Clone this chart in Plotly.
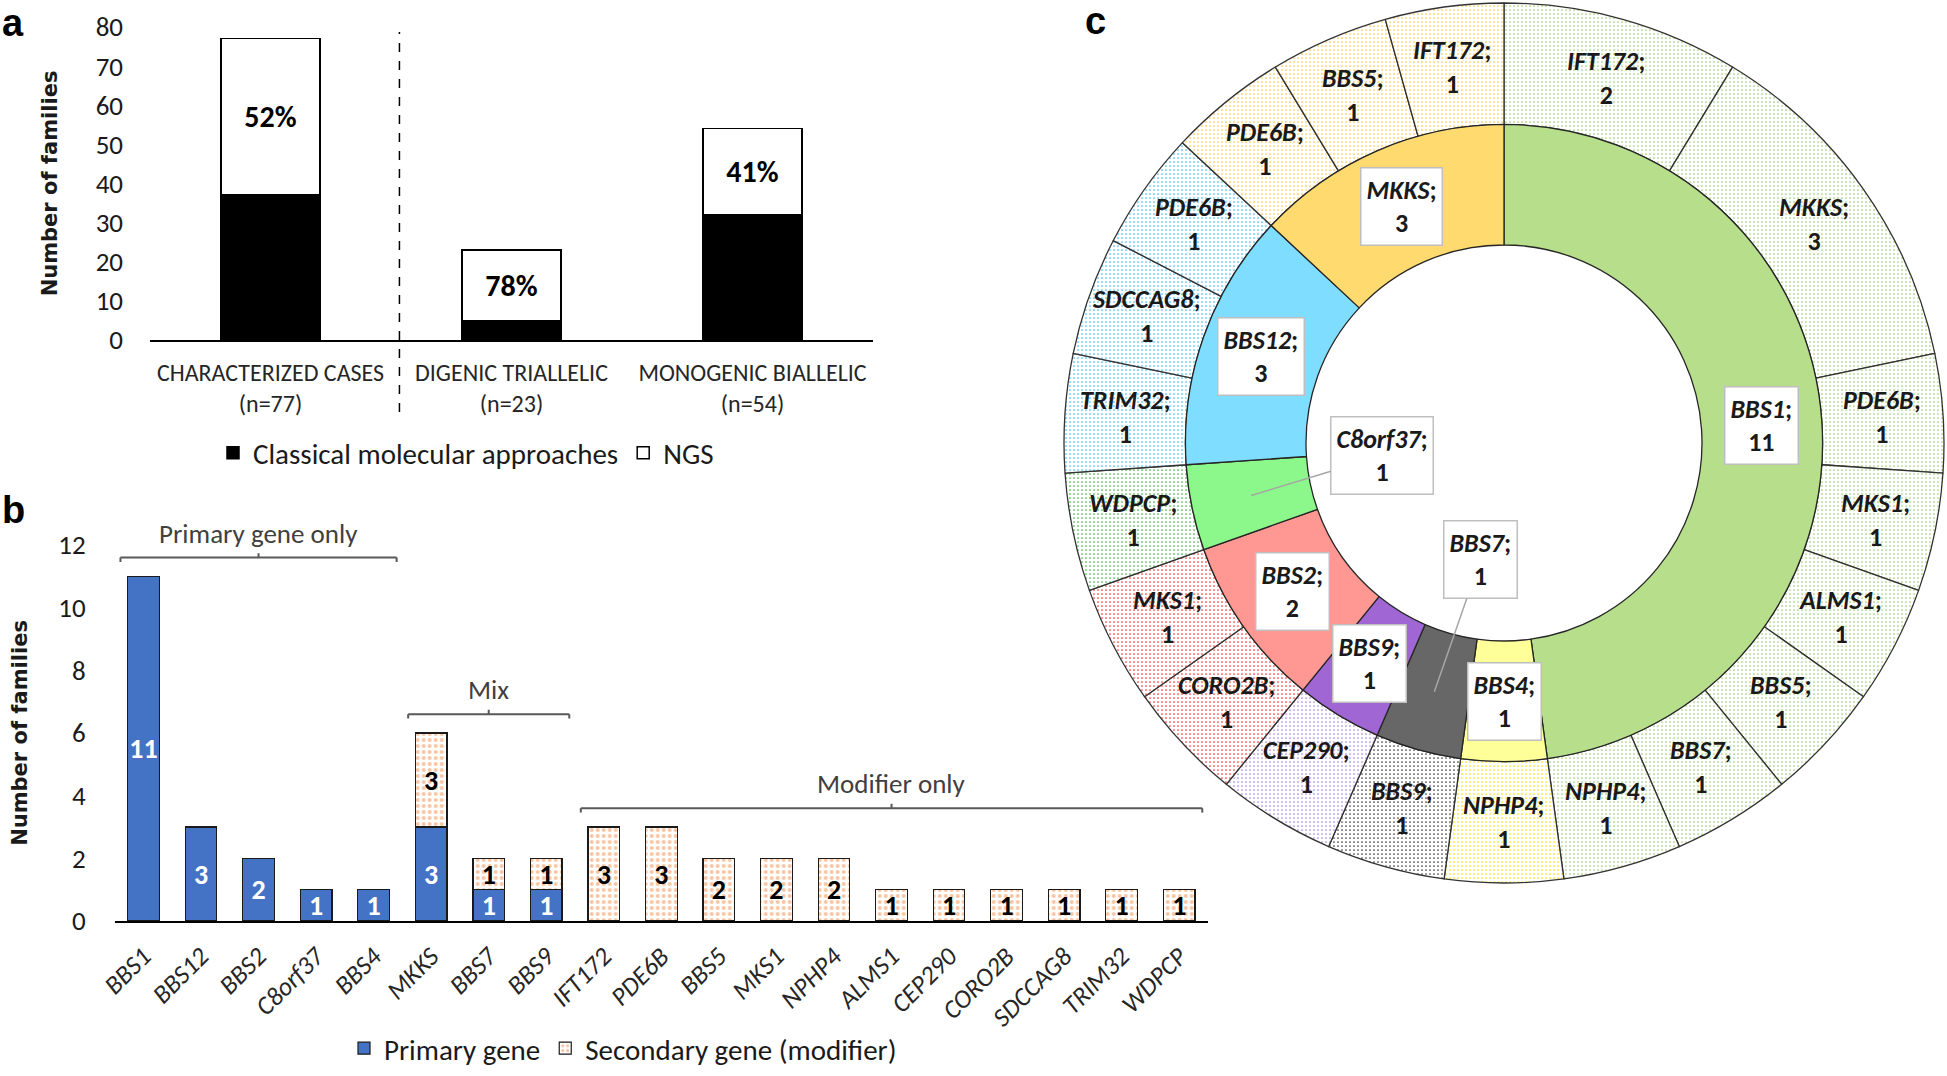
import math
import plotly.graph_objects as go

W, H = 1947, 1076

# ---------------- data ----------------
# panel a
a_categories = ["CHARACTERIZED CASES<br>(n=77)", "DIGENIC TRIALLELIC<br>(n=23)", "MONOGENIC BIALLELIC<br>(n=54)"]
a_classical = [37, 5, 32]
a_ngs = [40, 18, 22]
a_series_names = ["Classical molecular approaches", "NGS"]

# panel b
b_genes = ["BBS1", "BBS12", "BBS2", "C8orf37", "BBS4", "MKKS", "BBS7", "BBS9", "IFT172", "PDE6B",
           "BBS5", "MKS1", "NPHP4", "ALMS1", "CEP290", "CORO2B", "SDCCAG8", "TRIM32", "WDPCP"]
b_primary = [11, 3, 2, 1, 1, 3, 1, 1, 0, 0, 0, 0, 0, 0, 0, 0, 0, 0, 0]
b_secondary = [0, 0, 0, 0, 0, 3, 1, 1, 3, 3, 2, 2, 2, 1, 1, 1, 1, 1, 1]
b_series_names = ["Primary gene", "Secondary gene (modifier)"]
b_groups = ["Primary gene only", "Mix", "Modifier only"]
b_group_sizes = [5, 3, 11]

# panel c (inner ring = primary gene, outer ring = secondary gene)
c_primary = ["BBS1", "BBS4", "BBS7", "BBS9", "BBS2", "C8orf37", "BBS12", "MKKS"]
c_primary_counts = [11, 1, 1, 1, 2, 1, 3, 3]
c_secondary_parent = ["BBS1", "BBS1", "BBS1", "BBS1", "BBS1", "BBS1", "BBS1", "BBS1",
                      "BBS4", "BBS7", "BBS9", "BBS2", "BBS2", "C8orf37",
                      "BBS12", "BBS12", "BBS12", "MKKS", "MKKS", "MKKS"]
c_secondary_gene = ["IFT172", "MKKS", "PDE6B", "MKS1", "ALMS1", "BBS5", "BBS7", "NPHP4",
                    "NPHP4", "BBS9", "CEP290", "CORO2B", "MKS1", "WDPCP",
                    "TRIM32", "SDCCAG8", "PDE6B", "PDE6B", "BBS5", "IFT172"]
c_secondary_counts = [2, 3, 1, 1, 1, 1, 1, 1, 1, 1, 1, 1, 1, 1, 1, 1, 1, 1, 1, 1]

# ---------------- styles ----------------
FONT = "Carlito, Lato, 'Open Sans', sans-serif"
TITLE_FONT = "'DejaVu Sans', Verdana, sans-serif"
TXT = "#1a1a1a"
inner_colors = {"BBS1": "#B6DE8B", "BBS4": "#FFFF99", "BBS7": "#676767", "BBS9": "#A066D3",
                "BBS2": "#FF9792", "C8orf37": "#8CF78A", "BBS12": "#7FDDFF", "MKKS": "#FFDA6F"}
outer_dots = {"BBS1": "#9BCF6E", "BBS4": "#F2E600", "BBS7": "#3C3C3C", "BBS9": "#A883D8",
              "BBS2": "#FF3030", "C8orf37": "#3DB33D", "BBS12": "#3FBCEC", "MKKS": "#F7C640"}
inner_label_offsets = {"C8orf37": (131, -40), "BBS7": (46, -132)}

fig = go.Figure()

# ---------------- panel a ----------------
pct = [f"{round(100 * n / (c + n))}%" for c, n in zip(a_classical, a_ngs)]
fig.add_trace(go.Bar(x=a_categories, y=a_classical, name=a_series_names[0], width=0.41,
                     marker=dict(color="black", line=dict(color="black", width=1.5)),
                     xaxis="x", yaxis="y", legend="legend"))
fig.add_trace(go.Bar(x=a_categories, y=a_ngs, name=a_series_names[1], width=0.41,
                     marker=dict(color="white", line=dict(color="black", width=1.5)),
                     text=[f"<b>{p}</b>" for p in pct], textposition="inside",
                     insidetextanchor="middle", textangle=0, constraintext="none",
                     textfont=dict(size=30, color="black", family=FONT),
                     xaxis="x", yaxis="y", legend="legend"))

# ---------------- panel b ----------------
prim = [v if v > 0 else None for v in b_primary]
sec = [v if v > 0 else None for v in b_secondary]
fig.add_trace(go.Bar(x=b_genes, y=prim, name=b_series_names[0], width=0.55,
                     marker=dict(color="#4472C4", line=dict(color="#1a1a1a", width=1.2)),
                     text=[f"<b>{v}</b>" if v else "" for v in prim], textposition="inside",
                     insidetextanchor="middle", textangle=0, constraintext="none",
                     textfont=dict(size=28, color="white", family=FONT),
                     xaxis="x2", yaxis="y2", legend="legend2"))
fig.add_trace(go.Bar(x=b_genes, y=sec, name=b_series_names[1], width=0.55,
                     marker=dict(color="#ED7D31", line=dict(color="#1a1a1a", width=1.2),
                                 pattern=dict(shape=".", fgcolor="#F08A44", bgcolor="white",
                                              size=6, solidity=0.35)),
                     text=[f"<b>{v}</b>" if v else "" for v in sec], textposition="inside",
                     insidetextanchor="middle", textangle=0, constraintext="none",
                     textfont=dict(size=28, color="black", family=FONT),
                     xaxis="x2", yaxis="y2", legend="legend2"))

shapes = []
annotations = []
totals = [p + s for p, s in zip(b_primary, b_secondary)]
start = 0
for gname, gsize in zip(b_groups, b_group_sizes):
    x0, x1 = start - 0.4, start + gsize - 1 + 0.4
    xc = (x0 + x1) / 2
    yb = max(totals[start:start + gsize]) + 0.6
    hook = 0.14
    line = dict(color="#595959", width=2)
    for (xa, ya, xb, yb2) in [(x0, yb, x1, yb), (x0, yb, x0, yb - hook), (x1, yb, x1, yb - hook),
                              (xc, yb, xc, yb + hook)]:
        shapes.append(dict(type="line", xref="x2", yref="y2", x0=xa, y0=ya, x1=xb, y1=yb2, line=line))
    annotations.append(dict(text=gname, xref="x2", yref="y2", x=xc, y=yb, xanchor="center",
                            yanchor="bottom", yshift=6, showarrow=False,
                            font=dict(size=27, color="#404040", family=FONT)))
    start += gsize

# dashed separator in panel a
shapes.append(dict(type="line", xref="x", yref="paper", x0=0.535, x1=0.535,
                   y0=1 - 412 / H, y1=1 - 32 / H, line=dict(color="black", width=1.5, dash="dash")))

# ---------------- panel c ----------------
CX, CY, R = 1504, 443, 440
R_MID = 0.724
R_HOLE = 0.45


def dom(r):
    return dict(x=[(CX - r) / W, (CX + r) / W], y=[1 - (CY + r) / H, 1 - (CY - r) / H])


outer_ids = [f"{p}/{g}" for p, g in zip(c_secondary_parent, c_secondary_gene)]
fig.add_trace(go.Pie(labels=outer_ids, values=c_secondary_counts, sort=False, direction="clockwise",
                     rotation=0, hole=R_MID, textinfo="none", showlegend=False,
                     domain=dom(R),
                     marker=dict(colors=[outer_dots[p] for p in c_secondary_parent],
                                 line=dict(color="#333333", width=1.3),
                                 pattern=dict(shape=".", fgcolor=[outer_dots[p] for p in c_secondary_parent],
                                              bgcolor="white", size=4, solidity=0.15))))
fig.add_trace(go.Pie(labels=c_primary, values=c_primary_counts, sort=False, direction="clockwise",
                     rotation=0, hole=R_HOLE / R_MID, textinfo="none", showlegend=False,
                     domain=dom(R * R_MID),
                     marker=dict(colors=[inner_colors[p] for p in c_primary],
                                 line=dict(color="#262626", width=1.3))))


def polar(cum, v, total, rr):
    th = 2 * math.pi * (cum + v / 2) / total
    px = CX + rr * math.sin(th)
    py = CY - rr * math.cos(th)
    return px / W, 1 - py / H


tot = sum(c_secondary_counts)
cum = 0
for g, v in zip(c_secondary_gene, c_secondary_counts):
    x, y = polar(cum, v, tot, R * (1 + R_MID) / 2)
    annotations.append(dict(text=f"<b><i>{g}</i>;<br>{v}</b>", xref="paper", yref="paper", x=x, y=y,
                            xanchor="center", yanchor="middle", showarrow=False,
                            font=dict(size=26, color=TXT, family=FONT)))
    cum += v

tot = sum(c_primary_counts)
cum = 0
for g, v in zip(c_primary, c_primary_counts):
    x, y = polar(cum, v, tot, R * (R_MID + R_HOLE) / 2)
    ann = dict(text=f"<b><i>{g}</i>;<br>{v}</b>", xref="paper", yref="paper", x=x, y=y,
               xanchor="center", yanchor="middle",
               font=dict(size=26, color=TXT, family=FONT), bgcolor="white",
               bordercolor="#BFBFBF", borderwidth=1.5, borderpad=5, showarrow=False)
    if g in inner_label_offsets:
        ax, ay = inner_label_offsets[g]
        ann.update(showarrow=True, ax=ax, ay=ay, arrowhead=0, arrowwidth=1.5, arrowcolor="#A6A6A6")
    annotations.append(ann)
    cum += v

# panel letters
for letter, px, py in [("a", 0, 23), ("b", 0, 510), ("c", 1083, 21)]:
    annotations.append(dict(text=f"<b>{letter}</b>", xref="paper", yref="paper", x=px / W, y=1 - py / H,
                            xanchor="left", yanchor="middle", showarrow=False,
                            font=dict(size=38, color="black", family="'Liberation Sans', Arial, sans-serif")))

axis_common = dict(showgrid=False, zeroline=False, fixedrange=True, automargin=False)
fig.update_layout(
    width=W, height=H, margin=dict(l=0, r=0, t=0, b=0, autoexpand=False),
    paper_bgcolor="white", plot_bgcolor="white", barmode="stack",
    font=dict(family=FONT, color=TXT),
    shapes=shapes, annotations=annotations,
    legend=dict(orientation="h", x=466 / W, xanchor="center", y=1 - 453 / H, yanchor="middle",
                font=dict(size=29, family=FONT, color=TXT), bgcolor="rgba(0,0,0,0)", traceorder="normal"),
    legend2=dict(orientation="h", x=623 / W, xanchor="center", y=0.002, yanchor="bottom",
                 font=dict(size=29, family=FONT, color=TXT), bgcolor="rgba(0,0,0,0)", traceorder="normal"),
    xaxis=dict(domain=[150 / W, 873 / W], anchor="y", range=[-0.5, 2.5], showline=True,
               linecolor="black", linewidth=1.5, ticks="", tickfont=dict(size=24, color="#262626"),
               ticklabelstandoff=10, **axis_common),
    yaxis=dict(domain=[1 - 340 / H, 1 - 27 / H], anchor="x", range=[0, 80], dtick=10, showline=False,
               ticks="", tickfont=dict(size=27, color=TXT), ticklabelstandoff=26,
               title=dict(text="<b>Number of families</b>", font=dict(family=TITLE_FONT, size=21, color=TXT),
                          standoff=32), **axis_common),
    xaxis2=dict(domain=[114.7 / W, 1208 / W], anchor="y2", range=[-0.5, 18.5], showline=True,
                linecolor="black", linewidth=1.5, ticks="", tickangle=-45,
                tickfont=dict(size=26, color="#262626", style="italic"), ticklabelstandoff=8, **axis_common),
    yaxis2=dict(domain=[1 - 921 / H, 1 - 545 / H], anchor="x2", range=[0, 12], dtick=2, showline=False,
                ticks="", tickfont=dict(size=27, color=TXT), ticklabelstandoff=28,
                title=dict(text="<b>Number of families</b>", font=dict(family=TITLE_FONT, size=21, color=TXT),
                           standoff=24), **axis_common),
)

fig.write_html("out.html", config={"displayModeBar": False},
               post_script="document.body.style.margin='0px';")
